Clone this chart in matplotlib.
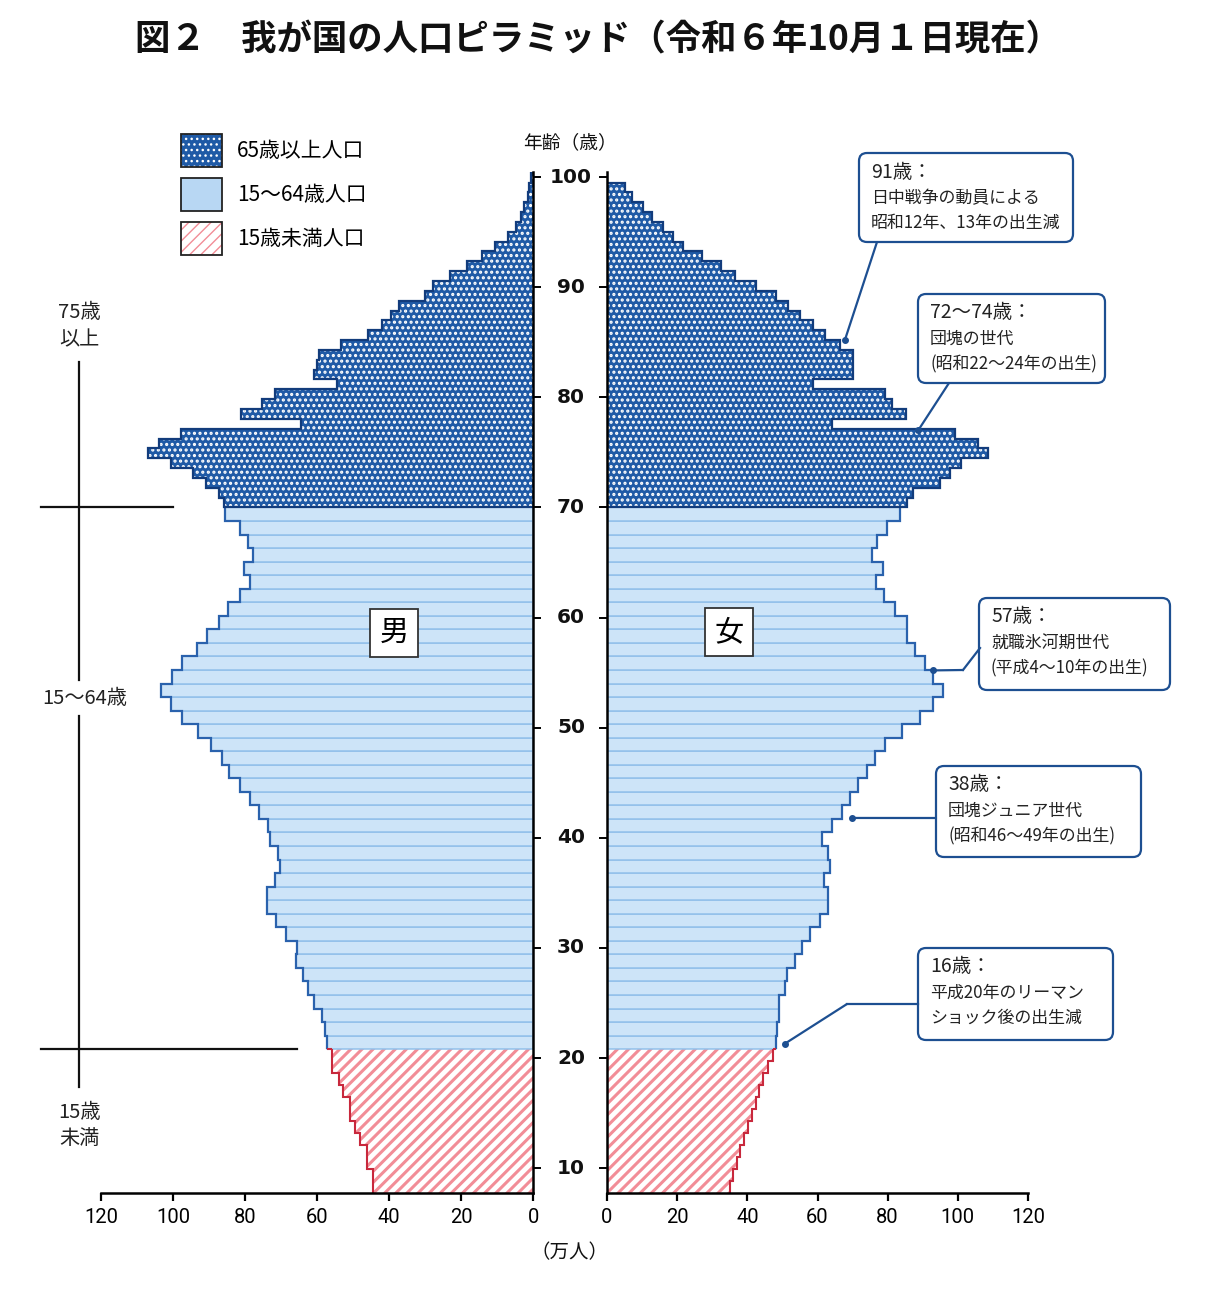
import numpy as np
import matplotlib
matplotlib.use("Agg")
import matplotlib.pyplot as plt
from matplotlib import font_manager
from matplotlib.patches import FancyBboxPatch, Patch, ConnectionPatch
from matplotlib.lines import Line2D
from matplotlib.transforms import Affine2D, blended_transform_factory

# ---------------- data (values in 万人, listed from younger to older) ----------------
under15_male = [44.4, 44.4, 46.3, 46.3, 48.1, 49.5, 50.9, 50.9, 52.8, 53.9, 56.0, 56.0]
under15_female = [35.2, 36.0, 37.0, 37.9, 39.0, 40.3, 41.2, 42.6, 43.4, 44.5, 46.0, 47.2]

working_male = [57.4, 57.9, 58.8, 60.9, 62.5, 63.9, 65.9, 65.7, 68.8, 71.6,
                74.1, 73.9, 71.8, 70.4, 70.8, 73.1, 73.8, 76.1, 78.7, 81.5,
                84.4, 86.6, 89.6, 93.1, 97.7, 100.7, 103.5, 100.4, 97.7, 93.3,
                90.7, 87.2, 84.7, 81.5, 78.7, 80.4, 77.8, 79.2, 81.5, 85.6]
working_female = [48.1, 48.5, 49.1, 49.1, 50.7, 51.4, 53.6, 55.5, 58.0, 60.7,
                  63.1, 63.1, 61.8, 63.7, 63.1, 61.4, 64.0, 66.9, 69.2, 71.6,
                  74.0, 76.4, 79.2, 84.0, 89.2, 93.0, 95.8, 93.0, 90.6, 87.7,
                  85.4, 85.4, 82.1, 78.9, 76.8, 78.7, 75.4, 77.1, 79.9, 83.5]

elderly_male = [85.8, 87.2, 90.9, 94.6, 100.6, 107.1, 103.9, 97.9, 64.5, 81.2,
                75.5, 71.7, 54.6, 60.8, 60.2, 59.4, 53.4, 46.0, 41.9, 39.5,
                37.4, 30.2, 27.8, 23.1, 18.5, 14.3, 10.6, 7.1, 4.8, 3.4,
                2.5, 1.6, 1.1, 0.6]
elderly_female = [85.4, 87.3, 94.9, 97.7, 101.0, 108.6, 105.8, 99.1, 64.0, 85.2,
                  81.1, 79.2, 58.8, 70.2, 70.2, 70.2, 66.5, 62.1, 58.6, 55.0,
                  51.5, 48.3, 42.6, 36.5, 32.4, 27.0, 21.6, 18.9, 16.0, 12.7,
                  10.3, 7.0, 5.1, 0.0]

age_ticks = [10, 20, 30, 40, 50, 60, 70, 80, 90, 100]
pop_ticks = [0, 20, 40, 60, 80, 100, 120]
legend_labels = ["65歳以上人口", "15～64歳人口", "15歳未満人口"]

callout_texts = [
    ("91歳：", "日中戦争の動員による", "昭和12年、13年の出生減"),
    ("72～74歳：", "団塊の世代", "(昭和22～24年の出生)"),
    ("57歳：", "就職氷河期世代", "(平成4～10年の出生)"),
    ("38歳：", "団塊ジュニア世代", "(昭和46～49年の出生)"),
    ("16歳：", "平成20年のリーマン", "ショック後の出生減"),
]
callout_targets = [(67.8, 85.2), (88.7, 77.0), (92.9, 55.2), (69.8, 41.8), (50.7, 21.3)]

# ---------------- style / layout ----------------
plt.rcParams["font.family"] = ["Noto Sans CJK JP", "DejaVu Sans"]

DARK = "#1f5aa6"
DARK_EDGE = "#123c7c"
LIGHT = "#cde4f8"
LIGHT_LINE = "#92c0ea"
LIGHT_EDGE = "#2a62ad"
PINK_HATCH = "#f28d97"
PINK_EDGE = "#c8283c"
CALL = "#1d4f91"

Y_MIN, B15, B65, Y_TOP, Y_LIM = 7.74, 20.8, 70.0, 100.4, 100.5

W, H = 1219, 1290
fig = plt.figure(figsize=(W / 100, H / 100), dpi=100)
fig.patch.set_facecolor("white")
PX = Affine2D().scale(1 / W, -1 / H).translate(0, 1) + fig.transFigure

names = {f.name for f in font_manager.fontManager.ttflist}
if "Liberation Sans Narrow" in names:
    XFONT, XSIZE = "Liberation Sans Narrow", 18
else:
    XFONT, XSIZE = "Roboto", 14.5

bot = (H - 1193) / H
hgt = (1193 - 171.6) / H
axL = fig.add_axes([101.3 / W, bot, 432 / W, hgt])
axR = fig.add_axes([607 / W, bot, 421 / W, hgt])


def set_hatch_lw(patches, lw):
    for p in patches:
        if hasattr(p, "set_hatch_linewidth"):
            p.set_hatch_linewidth(lw)


def draw_side(ax, under, working, elderly):
    e_u = np.linspace(Y_MIN, B15, len(under) + 1)
    e_w = np.linspace(B15, B65, len(working) + 1)
    e_e = np.linspace(B65, Y_TOP, len(elderly) + 1)
    with plt.rc_context({"hatch.linewidth": 2.2}):
        pb = ax.barh(e_u[:-1], under, height=np.diff(e_u), align="edge", color="white",
                     edgecolor=PINK_HATCH, linewidth=0, hatch="///")
    set_hatch_lw(pb, 2.2)
    ax.barh(e_w[:-1], working, height=np.diff(e_w), align="edge", color=LIGHT,
            edgecolor=LIGHT_LINE, linewidth=1.1)
    with plt.rc_context({"hatch.linewidth": 1.5}):
        db = ax.barh(e_e[:-1], elderly, height=np.diff(e_e), align="edge", color=DARK,
                     edgecolor="white", linewidth=0, hatch="...")
    set_hatch_lw(db, 1.5)
    ax.stairs(under, e_u, orientation="horizontal", baseline=None, color=PINK_EDGE, lw=1.5)
    ax.hlines(B15, under[-1], working[0], color=PINK_EDGE, lw=1.5)
    ax.stairs(working, e_w, orientation="horizontal", baseline=None, color=LIGHT_EDGE, lw=1.6)
    ax.stairs(elderly, e_e, orientation="horizontal", baseline=0, color=DARK_EDGE, lw=1.6)


draw_side(axL, under15_male, working_male, elderly_male)
draw_side(axR, under15_female, working_female, elderly_female)

for ax, side in ((axL, "L"), (axR, "R")):
    ax.set_ylim(Y_MIN, Y_LIM)
    ax.set_facecolor("none")
    ax.spines["top"].set_visible(False)
    ax.spines["bottom"].set_linewidth(1.8)
    ax.set_yticks(age_ticks)
    ax.set_xticks(pop_ticks)
    ax.set_xticklabels([str(t) for t in pop_ticks], fontfamily=XFONT, fontsize=XSIZE)
    ax.tick_params(axis="x", direction="out", length=6, width=1.6, pad=5)
    ax.tick_params(axis="y", direction="out", length=6, width=1.4)
    if side == "L":
        ax.set_xlim(120, 0)
        ax.spines["left"].set_visible(False)
        ax.spines["right"].set_linewidth(1.8)
        ax.yaxis.tick_right()
        ax.tick_params(axis="y", labelright=False, labelleft=False)
    else:
        ax.set_xlim(0, 120)
        ax.spines["right"].set_visible(False)
        ax.spines["left"].set_linewidth(1.8)
        ax.tick_params(axis="y", labelleft=False)

# central age labels
yt = blended_transform_factory(PX, axL.transData)
for a in age_ticks:
    fig.text(571, a, str(a), transform=yt, ha="center", va="center",
             fontsize=14.5, fontweight="bold", fontfamily="DejaVu Sans", color="#111")
fig.text(570, 143, "年齢（歳）", transform=PX, ha="center", va="center", fontsize=13.5, color="#111")
fig.text(570, 1253, "（万人）", transform=PX, ha="center", va="center", fontsize=14, color="#111")

# title
fig.text(598, 40, "図２　我が国の人口ピラミッド（令和６年10月１日現在）", transform=PX,
         ha="center", va="center", fontsize=25.5, fontweight="bold", color="#111")

# gender boxes
box_kw = dict(boxstyle="square,pad=0.32", fc="white", ec="#333", lw=1.3)
axL.text(38.7, 58.6, "男", ha="center", va="center", fontsize=21, bbox=box_kw, zorder=5)
axR.text(34.8, 58.7, "女", ha="center", va="center", fontsize=21, bbox=box_kw, zorder=5)

# left side age-group brackets
yb = blended_transform_factory(PX, axL.transData)
fig.add_artist(Line2D([41, 173], [B65, B65], transform=yb, color="#111", lw=1.6))
fig.add_artist(Line2D([41, 297], [B15, B15], transform=yb, color="#111", lw=1.6))
fig.add_artist(Line2D([79, 79], [362, 680], transform=PX, color="#111", lw=1.6))
fig.add_artist(Line2D([79, 79], [716, 1087], transform=PX, color="#111", lw=1.6))
for (x, y, s) in [(79, 313, "75歳"), (79, 340, "以上"), (85, 698, "15～64歳"),
                  (79, 1112, "15歳"), (79, 1138, "未満")]:
    fig.text(x, y, s, transform=PX, ha="center", va="center", fontsize=14.5, color="#222")

# legend
with plt.rc_context({"hatch.linewidth": 1.5}):
    lp1 = Patch(facecolor=DARK, edgecolor="white", hatch="...", lw=0)
with plt.rc_context({"hatch.linewidth": 2.2}):
    lp3 = Patch(facecolor="white", edgecolor=PINK_HATCH, hatch="///", lw=0)
handles = [
    (lp1, Patch(facecolor="none", edgecolor="#222", lw=1.3)),
    Patch(facecolor="#b8d7f3", edgecolor="#222", lw=1.3),
    (lp3, Patch(facecolor="none", edgecolor="#222", lw=1.3)),
]
fig.legend(handles, legend_labels, loc="upper left", bbox_to_anchor=(181 / W, 1 - 134 / H),
           frameon=False, borderpad=0, borderaxespad=0, fontsize=15,
           handlelength=1.97, handleheight=2.06, labelspacing=0.53, handletextpad=0.72)

# callouts
boxes = [(859, 153, 1073, 242), (918, 294, 1105, 383), (979, 598, 1170, 690),
         (936, 766, 1141, 857), (918, 948, 1113, 1040)]
leaders = [[(877, 242)], [(949, 383)], [(980, 648), (963, 670)],
           [(936, 818)], [(918, 1004), (847, 1004)]]
for lines, (x0, y0, x1, y1), path, tgt in zip(callout_texts, boxes, leaders, callout_targets):
    fig.add_artist(FancyBboxPatch((x0, y0), x1 - x0, y1 - y0,
                                  boxstyle="round,pad=0,rounding_size=8",
                                  transform=PX, fc="white", ec=CALL, lw=1.6, zorder=6))
    fig.text(x0 + 12, y0 + 19, lines[0], transform=PX, ha="left", va="center",
             fontsize=14, color="#222", zorder=7)
    fig.text(x0 + 12, y0 + 45, lines[1], transform=PX, ha="left", va="center",
             fontsize=12.2, color="#222", zorder=7)
    fig.text(x0 + 12, y0 + 70, lines[2], transform=PX, ha="left", va="center",
             fontsize=12.2, color="#222", zorder=7)
    if len(path) > 1:
        xs, ys = zip(*path)
        fig.add_artist(Line2D(xs, ys, transform=PX, color=CALL, lw=1.6, zorder=6))
    cp = ConnectionPatch(xyA=path[-1], coordsA=PX, xyB=tgt, coordsB=axR.transData,
                         color=CALL, lw=1.6, zorder=6)
    fig.add_artist(cp)
    axR.plot([tgt[0]], [tgt[1]], "o", ms=4, color=CALL, clip_on=False, zorder=7)

fig.savefig("out.png", dpi=100, facecolor="white")
